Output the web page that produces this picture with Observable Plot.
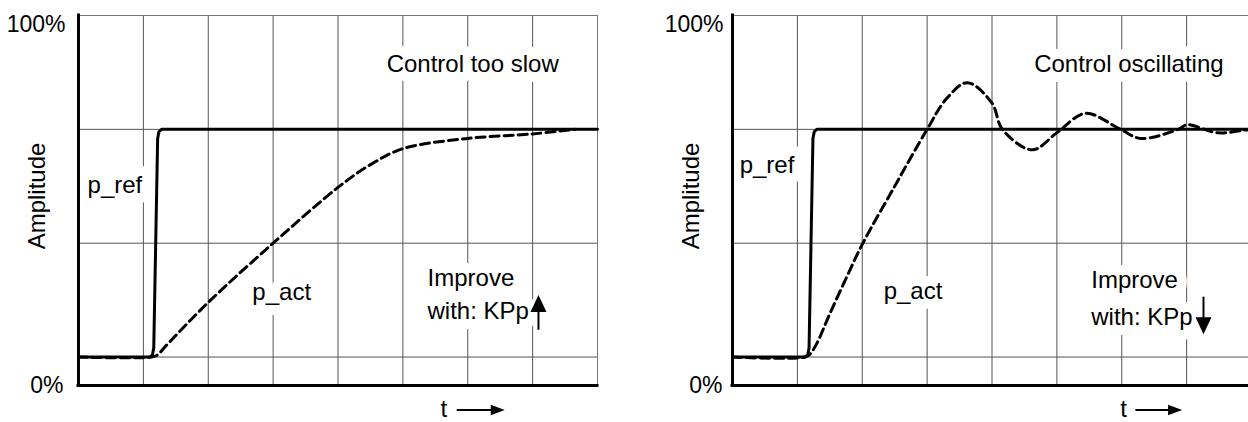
<!DOCTYPE html>
<html>
<head>
<meta charset="utf-8">
<script src="https://cdn.jsdelivr.net/npm/d3@7"></script>
<script src="https://cdn.jsdelivr.net/npm/@observablehq/plot@0.6"></script>
<style>
  html, body { margin: 0; padding: 0; background: #fff; }
  #wrap { position: relative; width: 1248px; height: 422px; overflow: hidden; background: #fff; }
  #wrap svg { position: absolute; top: 0; max-width: none; }
</style>
</head>
<body>
<div id="wrap"></div>
<script>
// ---------------- data ----------------
const gridX = [1, 2, 3, 4, 5, 6, 7];
const gridY = [0, 1, 2];
const xDomain = [0, 8];
const yDomain = [-0.25, 3];
const yTickValues = [-0.25, 3];
const yTickLabels = ["0%", "100%"];
const axisLabel = "Amplitude";
const timeLabel = "t";

// Left panel: control too slow
const slowTitle = "Control too slow";
const slowRefT = [0, 1.10, 1.14, 1.16, 1.22, 1.24, 1.28, 8];
const slowRefY = [0, 0, 0.02, 0.08, 1.92, 1.98, 2, 2];
const slowActT = [0, 1.12, 1.22, 1.35, 2.0, 3.0, 4.0, 4.5, 5.0, 6.0, 7.0, 7.65];
const slowActY = [0, 0, 0.02, 0.1, 0.48, 1.0, 1.49, 1.69, 1.83, 1.92, 1.96, 2.0];

// Right panel: control oscillating
const oscTitle = "Control oscillating";
const oscRefT = [0, 1.12, 1.16, 1.18, 1.24, 1.26, 1.30, 8.2];
const oscRefY = [0, 0, 0.02, 0.08, 1.92, 1.98, 2, 2];
const oscActT = [0, 1.12, 1.2, 1.3, 1.5, 1.75, 2.0, 2.5, 3.0, 3.3, 3.62, 4.0, 4.16, 4.62, 5.0, 5.44, 5.98, 6.29, 6.87, 7.01, 7.48, 8.0, 8.2];
const oscActY = [0, 0, 0.03, 0.12, 0.38, 0.69, 0.99, 1.5, 2.0, 2.27, 2.41, 2.23, 2.0, 1.82, 1.97, 2.14, 2.0, 1.92, 2.0, 2.04, 1.97, 2.0, 2.0];

const refName = "p_ref";
const actName = "p_act";
const improveLines = ["Improve", "with: KPp"];

// ---------------- layout ----------------
const FONT = "'Liberation Sans', Arial, Helvetica, sans-serif";
// arrowhead symbol with its tip at the anchor point, pointing up before rotation
function head(w, l) {
  return { draw(ctx) { ctx.moveTo(0, 0); ctx.lineTo(-w / 2, l); ctx.lineTo(w / 2, l); ctx.closePath(); } };
}
const bigHead = head(16, 17);
const smallHead = head(10.5, 14);

const panels = [
  {
    left: 0, title: slowTitle,
    refT: slowRefT, refY: slowRefY, actT: slowActT, actY: slowActY,
    labelPos: { ref: [0.14, 1.51], act: [2.68, 0.57], title: [4.75, 2.57], imp1: [5.38, 0.69], imp2: [5.38, 0.40] },
    kArrow: { x: 7.09, tail: 0.24, mid: 0.46, tip: 0.545, rot: 0 },
    tPos: [5.63, -0.46], tArrow: { x1: 5.83, x2: 6.45, tip: 6.57, y: -0.465 },
    tickDx: { top: -13, bottom: -15 }
  },
  {
    left: 654, title: oscTitle,
    refT: oscRefT, refY: oscRefY, actT: oscActT, actY: oscActY,
    labelPos: { ref: [0.11, 1.68], act: [2.33, 0.58], title: [4.65, 2.57], imp1: [5.53, 0.675], imp2: [5.53, 0.35] },
    kArrow: { x: 7.26, tail: 0.53, mid: 0.30, tip: 0.20, rot: 180 },
    tPos: [6.03, -0.46], tArrow: { x1: 6.21, x2: 6.80, tip: 6.93, y: -0.465 },
    tickDx: { top: -9, bottom: -10 }
  }
];

function makePanel(cfg) {
  const ref = cfg.refT.map((t, i) => ({ t, v: cfg.refY[i] }));
  const act = cfg.actT.map((t, i) => ({ t, v: cfg.actY[i] }));
  const lp = cfg.labelPos;
  const labels = [
    { text: refName, x: lp.ref[0], y: lp.ref[1] },
    { text: actName, x: lp.act[0], y: lp.act[1] },
    { text: cfg.title, x: lp.title[0], y: lp.title[1] },
    { text: improveLines[0], x: lp.imp1[0], y: lp.imp1[1] },
    { text: improveLines[1], x: lp.imp2[0], y: lp.imp2[1] }
  ];
  const ticks = yTickValues.map((v, i) => ({ v, label: yTickLabels[i] }));
  const [y0, y1] = yDomain;
  const [x0, x1] = xDomain;
  return Plot.plot({
    width: 654, height: 422,
    marginLeft: 78, marginRight: 57, marginTop: 15, marginBottom: 37,
    x: { domain: xDomain, axis: null },
    y: { domain: yDomain, axis: null },
    style: { fontFamily: FONT, background: "#fff", color: "#000" },
    marks: [
      Plot.ruleX(gridX, { y1: y0, y2: y1, stroke: "#555", strokeWidth: 1 }),
      Plot.ruleY(gridY, { x1: x0, x2: x1, stroke: "#555", strokeWidth: 1 }),
      Plot.ruleY([y1], { x1: x0, x2: x1, stroke: "#777", strokeWidth: 1 }),
      Plot.ruleX([x1], { y1: y0, y2: y1, stroke: "#777", strokeWidth: 1 }),
      Plot.text(labels, {
        x: "x", y: "y", text: "text", textAnchor: "start", fontSize: 24, fill: "#000",
        stroke: "#fff", strokeWidth: 20, strokeLinejoin: "round", paintOrder: "stroke"
      }),
      Plot.line(act, { x: "t", y: "v", curve: "catmull-rom", stroke: "#000", strokeWidth: 3, strokeDasharray: "9,5" }),
      Plot.line(ref, { x: "t", y: "v", curve: "linear", stroke: "#000", strokeWidth: 3, strokeLinejoin: "round" }),
      Plot.link([cfg.kArrow], { x1: "x", x2: "x", y1: "tail", y2: "mid", stroke: "#000", strokeWidth: 2 }),
      Plot.dot([cfg.kArrow], { x: "x", y: "tip", symbol: bigHead, r: 1, fill: "#000", stroke: null, rotate: cfg.kArrow.rot }),
      Plot.ruleX([x0], { y1: y0, y2: y1, stroke: "#000", strokeWidth: 3, strokeLinecap: "square" }),
      Plot.ruleY([y0], { x1: x0, x2: x1, stroke: "#000", strokeWidth: 3, strokeLinecap: "square" }),
      Plot.text(ticks.filter(d => d.v === y1), { y: "v", text: "label", frameAnchor: "left", textAnchor: "end", lineAnchor: "top", dx: cfg.tickDx.top, fontSize: 23, fill: "#000" }),
      Plot.text(ticks.filter(d => d.v === y0), { y: "v", text: "label", frameAnchor: "left", textAnchor: "end", lineAnchor: "middle", dx: cfg.tickDx.bottom, fontSize: 23, fill: "#000" }),
      Plot.text([axisLabel], { text: d => d, frameAnchor: "left", rotate: -90, dx: -41.5, dy: -4.5, textAnchor: "middle", fontSize: 24, fill: "#000" }),
      Plot.text([timeLabel], { text: d => d, x: () => cfg.tPos[0], y: () => cfg.tPos[1], textAnchor: "middle", fontSize: 24, fill: "#000" }),
      Plot.link([cfg.tArrow], { x1: "x1", x2: "x2", y1: "y", y2: "y", stroke: "#000", strokeWidth: 2 }),
      Plot.dot([cfg.tArrow], { x: "tip", y: "y", symbol: smallHead, r: 1, fill: "#000", stroke: null, rotate: 90 })
    ]
  });
}

const wrap = document.getElementById("wrap");
for (const cfg of panels) {
  const svg = makePanel(cfg);
  svg.style.left = cfg.left + "px";
  wrap.appendChild(svg);
}
</script>
</body>
</html>
